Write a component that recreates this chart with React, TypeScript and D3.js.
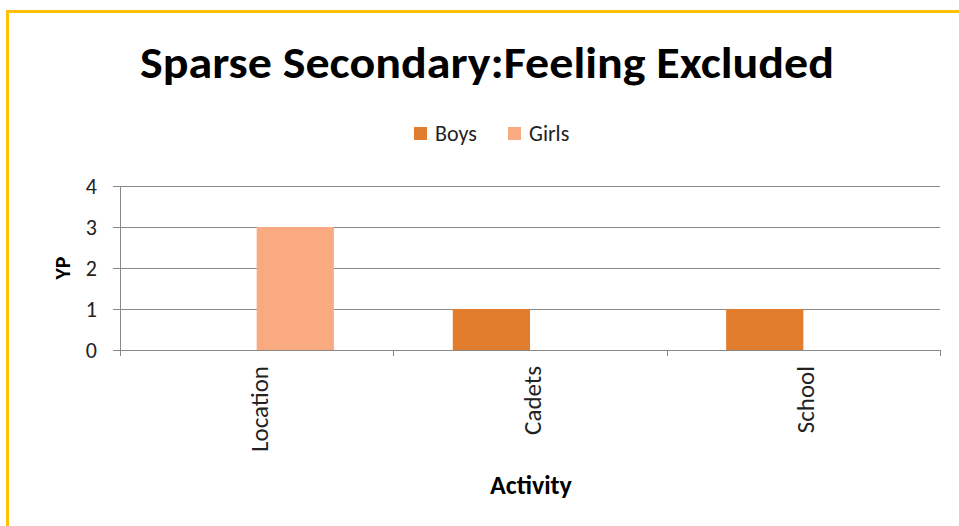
import React from "react";
import * as d3 from "d3";

const categories = ["Location", "Cadets", "School"];
const seriesNames = ["Boys", "Girls"];
const boys = [0, 1, 1];
const girls = [3, 0, 0];
const yTicks = [0, 1, 2, 3, 4];
const colors = ["#E27D2E", "#F9AA80"];

export default function App() {
  const W = 959, H = 526;
  const left = 120, right = 940, top = 186, bottom = 350;
  const x = d3.scaleBand<string>().domain(categories).range([left, right]).paddingInner(0).paddingOuter(0);
  const x1 = d3.scaleBand<string>().domain(seriesNames).range([0, x.bandwidth()]).paddingInner(0).paddingOuter(0.77);
  const y = d3.scaleLinear().domain([0, 4]).range([bottom, top]);
  const values = [boys, girls];
  const font = "Calibri, Carlito, Lato, sans-serif";
  return (
    <svg width={W} height={H} style={{ position: "absolute", left: 0, top: 0 }} fontFamily={font}>
      <rect x={0} y={0} width={W} height={H} fill="#fff" />
      <line x1={7} y1={11.5} x2={W} y2={11.5} stroke="#FFC000" strokeWidth={3} />
      <line x1={7.5} y1={10} x2={7.5} y2={H} stroke="#FFC000" strokeWidth={3} />
      <text x={487} y={78} textAnchor="middle" fontSize={44} fontWeight="900" fill="#000" textLength={694} lengthAdjust="spacingAndGlyphs">
        Sparse Secondary:Feeling Excluded
      </text>
      {/* legend */}
      {seriesNames.map((s, i) => {
        const lx = [414, 508][i];
        return (
          <g key={s}>
            <rect x={lx} y={127} width={13} height={13} fill={colors[i]} />
            <text x={lx + 21} y={141} fontSize={22} fill="#222">{s}</text>
          </g>
        );
      })}
      {/* gridlines */}
      {yTicks.map((t) => (
        <g key={t}>
          <line x1={left - 7} x2={right} y1={y(t) + 0.5} y2={y(t) + 0.5} stroke="#888" strokeWidth={1} />
          <text x={97} y={y(t) + 8} textAnchor="end" fontSize={22} fill="#222">{t}</text>
        </g>
      ))}
      <line x1={left + 0.5} x2={left + 0.5} y1={top} y2={bottom + 6} stroke="#888" />
      {categories.map((c) => (
        <line key={c} x1={Math.round(x(c)! + x.bandwidth()) + 0.5} x2={Math.round(x(c)! + x.bandwidth()) + 0.5} y1={bottom} y2={bottom + 6} stroke="#888" />
      ))}
      {/* bars */}
      {categories.map((c, ci) =>
        seriesNames.map((s, si) => {
          const v = values[si][ci];
          if (!v) return null;
          return (
            <rect key={c + s} x={x(c)! + x1(s)!} y={y(v)} width={x1.bandwidth()} height={y(0) - y(v)} fill={colors[si]} />
          );
        })
      )}
      {/* x labels */}
      {categories.map((c) => {
        const cx = x(c)! + x.bandwidth() / 2 + 11;
        return (
          <text key={c} transform={`translate(${cx},366) rotate(-90)`} textAnchor="end" fontSize={25} fill="#222">{c}</text>
        );
      })}
      <text transform={`translate(70,268) rotate(-90)`} textAnchor="middle" fontSize={22} fontWeight="bold" fill="#000">YP</text>
      <text x={531} y={494} textAnchor="middle" fontSize={26} fontWeight="bold" fill="#000">Activity</text>
    </svg>
  );
}
